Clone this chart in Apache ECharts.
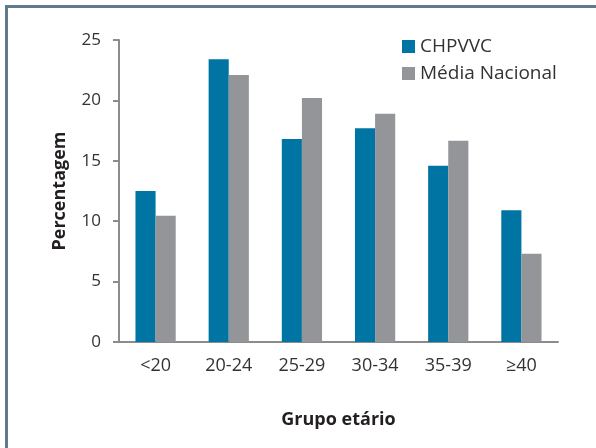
<!DOCTYPE html>
<html>
<head>
<meta charset="utf-8" />
<title>Grupo etário</title>
<style>
  body { margin: 0; background: #fff; }
  #frame { position: absolute; left: 5px; top: 5px; width: 600px; height: 460px;
           border-top: 3px solid #5e7a8e; border-left: 3px solid #5e7a8e; }
  #chart { position: absolute; left: 0; top: 0; width: 596px; height: 448px; }
</style>
</head>
<body>
<div id="frame"></div>
<div id="chart"></div>
<script src="https://cdn.jsdelivr.net/npm/echarts@6/dist/echarts.min.js"></script>
<script>
// dados
var categorias = ['<20', '20-24', '25-29', '30-34', '35-39', '≥40'];
var chpvvc = [12.5, 23.4, 16.8, 17.7, 14.6, 10.9];
var mediaNacional = [10.45, 22.1, 20.2, 18.9, 16.65, 7.3];
var yTicks = [0, 5, 10, 15, 20, 25];

var fonte = '"Open Sans", sans-serif';
var myChart = echarts.init(document.getElementById('chart'));

var option = {
    animation: false,
    grid: { left: 119, right: 38, top: 40, bottom: 106 },
    legend: {
        orient: 'vertical',
        left: 397,
        top: 32,
        itemWidth: 13,
        itemHeight: 13,
        itemGap: 8,
        icon: 'rect',
        textStyle: { fontFamily: fonte, fontSize: 19, color: '#333' },
        data: ['CHPVVC', 'Média Nacional']
    },
    xAxis: {
        type: 'category',
        data: categorias,
        name: 'Grupo etário',
        nameLocation: 'middle',
        nameGap: 69,
        nameTextStyle: { fontFamily: fonte, fontSize: 18, fontWeight: 'bold', color: '#231f20' },
        axisLine: { lineStyle: { color: '#8c8c8c', width: 2 } },
        axisTick: { length: 10, lineStyle: { color: '#8c8c8c', width: 2 } },
        axisLabel: { fontFamily: fonte, fontSize: 18, color: '#333', margin: 15 }
    },
    yAxis: {
        type: 'value',
        min: yTicks[0],
        max: yTicks[yTicks.length - 1],
        interval: 5,
        name: 'Percentagem',
        nameLocation: 'middle',
        nameGap: 50,
        nameTextStyle: { fontFamily: fonte, fontSize: 18, fontWeight: 'bold', color: '#231f20' },
        splitLine: { show: false },
        axisLine: { show: true, lineStyle: { color: '#8c8c8c', width: 2 } },
        axisTick: { show: true, length: 6, lineStyle: { color: '#8c8c8c', width: 2 } },
        axisLabel: { fontFamily: fonte, fontSize: 17, color: '#333', margin: 18 }
    },
    series: [
        {
            name: 'CHPVVC',
            type: 'bar',
            data: chpvvc,
            barGap: 0,
            barCategoryGap: '45%',
            itemStyle: { color: '#0075a3' }
        },
        {
            name: 'Média Nacional',
            type: 'bar',
            data: mediaNacional,
            itemStyle: { color: '#939598' }
        }
    ]
};
myChart.setOption(option);
</script>
</body>
</html>
